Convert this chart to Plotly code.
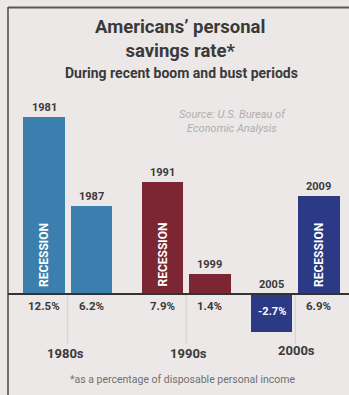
import plotly.graph_objects as go

years = ["1981", "1987", "1991", "1999", "2005", "2009"]
rates = [12.5, 6.2, 7.9, 1.4, -2.7, 6.9]
recession = [True, False, True, False, False, True]
decade_of_bar = ["1980s", "1980s", "1990s", "1990s", "2000s", "2000s"]
decades = ["1980s", "1990s", "2000s"]
decade_colors = {"1980s": "#3a7fae", "1990s": "#7d2633", "2000s": "#2c3a85"}
slots = [0, 1, 2.5, 3.5, 4.8, 5.8]

W, H = 349, 395
BG = "#ebe8e7"
TXT = "#3a3a3a"
FONT = "Roboto, sans-serif"

fig = go.Figure()
fig.add_trace(go.Bar(
    x=slots, y=rates, width=0.88,
    marker=dict(color=[decade_colors[d] for d in decade_of_bar], line=dict(width=0)),
    hoverinfo="skip", showlegend=False,
))

ann = []
for xs, yv, yr, rec in zip(slots, rates, years, recession):
    ann.append(dict(x=xs, y=max(yv, 0), text=f"<b>{yr}</b>", showarrow=False,
                    yanchor="bottom", yshift=1, font=dict(size=11, color=TXT, family=FONT)))
    if yv >= 0:
        ann.append(dict(x=xs, y=0, text=f"<b>{yv}%</b>", showarrow=False,
                        yanchor="top", yshift=-3, font=dict(size=11.5, color=TXT, family=FONT)))
    else:
        ann.append(dict(x=xs, y=0, text=f"<b>{yv}%</b>", showarrow=False,
                        yanchor="top", yshift=-9, font=dict(size=11, color="white", family=FONT)))
    if rec:
        ann.append(dict(x=xs, y=0, text="<b>RECESSION</b>", showarrow=False, textangle=-90,
                        yanchor="bottom", yshift=5, font=dict(size=12, color="white", family=FONT)))

decade_pos = {"1980s": (0.46, 353), "1990s": (3.04, 353), "2000s": (5.32, 350)}
for d in decades:
    xs, py = decade_pos[d]
    ann.append(dict(x=xs, y=1 - py / H, xref="x", yref="paper", text=f"<b>{d}</b>", showarrow=False,
                    yanchor="middle", font=dict(size=13, color=TXT, family=FONT)))

ann.append(dict(x=180 / W, y=1 - 39.5 / H, xref="paper", yref="paper",
                text="<b>Americans’ personal<br>savings rate*</b>", showarrow=False,
                yanchor="middle", xanchor="center", align="center",
                font=dict(size=18.5, color=TXT, family=FONT)))
ann.append(dict(x=182 / W, y=1 - 73 / H, xref="paper", yref="paper",
                text="<b>During recent boom and bust periods</b>", showarrow=False,
                yanchor="middle", xanchor="center",
                font=dict(size=14, color=TXT, family=FONT)))
ann.append(dict(x=232 / W, y=1 - 122 / H, xref="paper", yref="paper",
                text="<i>Source: U.S. Bureau of<br>Economic Analysis</i>", showarrow=False,
                yanchor="middle", xanchor="center", align="center",
                font=dict(size=11, color="#b0aeae", family=FONT)))
ann.append(dict(x=183 / W, y=1 - 379 / H, xref="paper", yref="paper",
                text="*as a percentage of disposable personal income", showarrow=False,
                yanchor="middle", xanchor="center",
                font=dict(size=10.5, color="#707070", family=FONT)))

shapes = []
shapes.append(dict(type="line", xref="paper", yref="paper", x0=8 / W, x1=1, y0=1 - 7.5 / H, y1=1 - 7.5 / H,
                   line=dict(color="#5a5a5a", width=2)))
shapes.append(dict(type="line", xref="paper", yref="paper", x0=8 / W, x1=8 / W, y0=0, y1=1 - 7 / H,
                   line=dict(color="#4a4a4a", width=1.5)))
for sx in [0.5, 3.0, 5.3]:
    shapes.append(dict(type="line", xref="x", yref="paper", x0=sx, x1=sx, y0=1 - 344 / H, y1=1 - 294 / H,
                       line=dict(color="#d2cfce", width=1)))
shapes.append(dict(type="line", xref="paper", yref="y", x0=8 / W, x1=1, y0=0, y1=0,
                   line=dict(color="#333333", width=2)))

px_per = 14.16
fig.update_layout(
    width=W, height=H, margin=dict(l=0, r=0, t=0, b=0),
    paper_bgcolor=BG, plot_bgcolor=BG,
    xaxis=dict(range=[(0 - 44) / 47.4, (W - 44) / 47.4], visible=False, fixedrange=True),
    yaxis=dict(range=[-(H - 294) / px_per, 294 / px_per], visible=False, fixedrange=True),
    annotations=ann, shapes=shapes, bargap=0,
)
fig.write_html("out.html")
